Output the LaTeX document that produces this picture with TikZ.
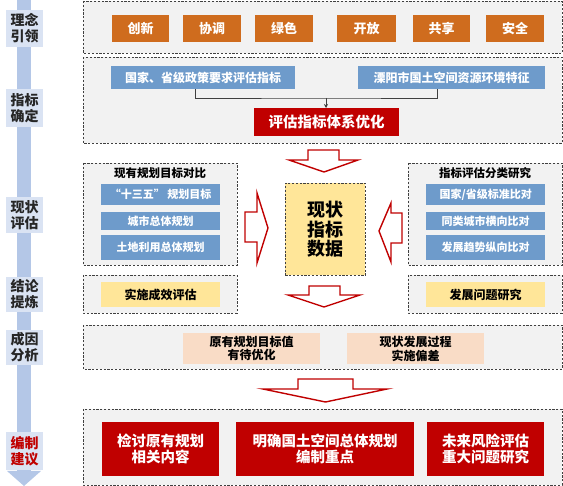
\documentclass[tikz,border=0pt]{standalone}
\usepackage{fontspec}
\setmainfont{Noto Sans CJK SC}
\usetikzlibrary{calc,arrows.meta}
\definecolor{orangebx}{HTML}{CF6C1E}
\definecolor{bluebx}{HTML}{6E9BCB}
\definecolor{redbx}{HTML}{C00000}
\definecolor{yellowbx}{HTML}{FFE699}
\definecolor{palebx}{HTML}{F9DCC6}
\definecolor{panelbg}{HTML}{F2F2F2}
\definecolor{dashcol}{HTML}{404040}
\definecolor{barcol}{HTML}{B4C7E7}
\definecolor{labcol}{HTML}{DAE3F3}
\definecolor{labtxt}{HTML}{262626}
\tikzset{
  panel/.style={draw=dashcol, fill=panelbg, line width=0.7pt, dash pattern=on 2.2pt off 1.6pt},
  boxat/.style args={#1/#2/#3/#4}{minimum width=#3-#1, minimum height=#4-#2, anchor=north west, inner sep=0pt},
  obox/.style={fill=orangebx, text=white, font=\bfseries\fontsize{13}{15}\selectfont},
  bbox/.style={fill=bluebx, text=white, font=\bfseries\fontsize{12}{14}\selectfont},
  sbbox/.style={fill=bluebx, text=white, font=\bfseries\fontsize{11}{13}\selectfont},
  rbox/.style={fill=redbx, text=white, font=\bfseries\fontsize{14.5}{16}\selectfont, align=center},
  ybox/.style={fill=yellowbx, text=black, font=\bfseries\fontsize{12}{14}\selectfont},
  pbox/.style={fill=palebx, text=black, font=\bfseries\fontsize{12}{13.5}\selectfont, align=center},
  labbox/.style={fill=labcol, text=labtxt, font=\bfseries\fontsize{14}{16}\selectfont, align=center, minimum width=37pt, inner sep=0pt},
  ttl/.style={text=black, font=\bfseries\fontsize{11.5}{13}\selectfont},
  hollow/.style={draw=redbx, fill=white, line width=1.4pt, line join=miter},
  conn/.style={draw=dashcol, line width=0.6pt},
}
\begin{document}
\begin{tikzpicture}[x=1pt, y=-1pt]
\useasboundingbox (0,0) rectangle (563,486);
% left progress bar
\fill[barcol] (17,0) rectangle (31,472);
\fill[barcol] (7,471) -- (41,471) -- (24,486) -- cycle;
\node[labbox, minimum height=37pt] (l1) at (24.5,28.5) {理念\\引领};
\node[labbox, minimum height=38pt] (l2) at (24.5,108) {指标\\确定};
\node[labbox, minimum height=36pt] (l3) at (24.5,215) {现状\\评估};
\node[labbox, minimum height=35pt] (l4) at (24.5,294.5) {结论\\提炼};
\node[labbox, minimum height=35pt] (l5) at (24.5,347.5) {成因\\分析};
\node[labbox, minimum height=38pt, text=redbx] (l6) at (24.5,451) {编制\\建议};

% row 1
\draw[panel] (83,1) rectangle (562,53);
\node[obox, boxat=112/15/169/42] (o1) at (112,15) {创新};
\node[obox, boxat=183/15/241/42] (o2) at (183,15) {协调};
\node[obox, boxat=255/15/313/42] (o3) at (255,15) {绿色};
\node[obox, boxat=337/15/396/42] (o4) at (337,15) {开放};
\node[obox, boxat=413/15/470/42] (o5) at (413,15) {共享};
\node[obox, boxat=486/15/544/42] (o6) at (486,15) {安全};

% row 2
\draw[panel] (83,57) rectangle (562,143);
\node[bbox, boxat=111/66/295/89] (b1) at (111,66) {国家、省级政策要求评估指标};
\node[bbox, boxat=358/66/545/89] (b2) at (358,66) {溧阳市国土空间资源环境特征};
\node[rbox, boxat=254/108/399/136] (r0) at (254,108) {评估指标体系优化};
\coordinate (j) at (326,98);
\draw[conn] ([xshift=-8pt]b1.south) |- (j) -| ([xshift=-14pt]b2.south);
\draw[conn, -{Stealth[length=4pt,width=4pt]}] (j) -- (r0.north -| j);

% arrow down 1
\draw[hollow] (308,150) -- (339,150) -- (339,160) -- (358,160) -- (324,172) -- (289,160) -- (308,160) -- cycle;

% middle left
\draw[panel] (83,163) rectangle (237,265);
\node[ttl] (t1) at (160,173) {现有规划目标对比};
\node[sbbox, boxat=101/184/220/205] (m1) at (101,184) {“十三五” 规划目标};
\node[sbbox, boxat=101/212/220/230] (m2) at (101,212) {城市总体规划};
\node[sbbox, boxat=101/235/220/260] (m3) at (101,235) {土地利用总体规划};
\draw[panel] (83,275) rectangle (237,313);
\node[ybox, boxat=101/282/220/307] (y1) at (101,282) {实施成效评估};

% center
\node[draw=dashcol, fill=yellowbx, line width=0.7pt, dash pattern=on 2.2pt off 1.6pt, boxat=285/183/365/275, align=center, font=\bfseries\fontsize{18}{19.5}\selectfont] (c) at (285,183) {现状\\指标\\数据};

% middle right
\draw[panel] (408,163) rectangle (562,265);
\node[ttl] (t2) at (485,173) {指标评估分类研究};
\node[sbbox, boxat=426/184/545/205] (n1) at (426,184) {国家/省级标准比对};
\node[sbbox, boxat=426/212/545/230] (n2) at (426,212) {同类城市横向比对};
\node[sbbox, boxat=426/235/545/260] (n3) at (426,235) {发展趋势纵向比对};
\draw[panel] (408,275) rectangle (562,313);
\node[ybox, boxat=426/282/545/307] (y2) at (426,282) {发展问题研究};

% side arrows
\draw[hollow] (245,212) -- (257,212) -- (257,193) -- (268,228) -- (257,263) -- (257,242) -- (245,242) -- cycle;
\draw[hollow] (402,213) -- (391,213) -- (391,203) -- (379,231) -- (391,262) -- (391,243) -- (402,243) -- cycle;

% arrow down 2
\draw[hollow] (309,286) -- (340,286) -- (340,295) -- (360,295) -- (324,307) -- (288,295) -- (309,295) -- cycle;

% cause panel
\draw[panel] (83,325) rectangle (562,369);
\node[pbox, boxat=183/333/320/364] (p1) at (183,333) {原有规划目标值\\有待优化};
\node[pbox, boxat=347/333/484/364] (p2) at (347,333) {现状发展过程\\实施偏差};

% big arrow
\draw[hollow] (298,379) -- (353,379) -- (353,389) -- (387,389) -- (325.5,402) -- (263,389) -- (298,389) -- cycle;

% bottom panel
\draw[panel] (83,409) rectangle (562,485);
\node[rbox, boxat=102/422/219/476] (q1) at (102,422) {检讨原有规划\\相关内容};
\node[rbox, boxat=236/422/414/476] (q2) at (236,422) {明确国土空间总体规划\\编制重点};
\node[rbox, boxat=427/422/544/476] (q3) at (427,422) {未来风险评估\\重大问题研究};
\end{tikzpicture}
\end{document}
